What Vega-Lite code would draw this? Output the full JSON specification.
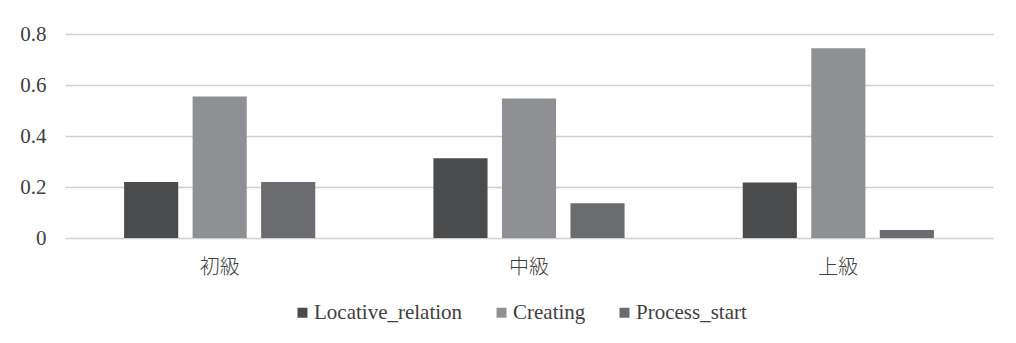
{
  "$schema": "https://vega.github.io/schema/vega-lite/v6.json",
  "autosize": {"type": "none"},
  "padding": {"left": 65, "top": 34, "right": 23, "bottom": 105},
  "width": 928,
  "height": 204,
  "background": "#ffffff",
  "data": {
    "values": [
      {"level": "初級", "category": "Locative_relation", "value": 0.22},
      {"level": "初級", "category": "Creating", "value": 0.555},
      {"level": "初級", "category": "Process_start", "value": 0.22},
      {"level": "中級", "category": "Locative_relation", "value": 0.313},
      {"level": "中級", "category": "Creating", "value": 0.547},
      {"level": "中級", "category": "Process_start", "value": 0.136},
      {"level": "上級", "category": "Locative_relation", "value": 0.218},
      {"level": "上級", "category": "Creating", "value": 0.744},
      {"level": "上級", "category": "Process_start", "value": 0.031}
    ]
  },
  "mark": {"type": "bar"},
  "encoding": {
    "x": {
      "field": "level",
      "type": "nominal",
      "sort": ["初級", "中級", "上級"],
      "scale": {"paddingInner": 0.382, "paddingOuter": 0.191},
      "axis": {
        "title": null,
        "domain": false,
        "ticks": false,
        "tickSize": 0,
        "labelAngle": 0,
        "labelPadding": 19,
        "labelFont": "Noto Sans CJK JP",
        "labelFontWeight": 300,
        "labelFontSize": 20,
        "labelColor": "#404040"
      }
    },
    "xOffset": {
      "field": "category",
      "type": "nominal",
      "sort": ["Locative_relation", "Creating", "Process_start"],
      "scale": {"paddingInner": 0.21, "paddingOuter": 0}
    },
    "y": {
      "field": "value",
      "type": "quantitative",
      "scale": {"domain": [0, 0.8], "nice": false},
      "axis": {
        "title": null,
        "values": [0, 0.2, 0.4, 0.6, 0.8],
        "format": "~g",
        "domain": false,
        "ticks": false,
        "tickSize": 0,
        "labelPadding": 19,
        "labelFont": "Liberation Serif, Times New Roman, serif",
        "labelFontSize": 21,
        "labelColor": "#404040",
        "grid": true,
        "gridColor": "#cfcfcf",
        "gridWidth": 1.5
      }
    },
    "color": {
      "field": "category",
      "type": "nominal",
      "sort": ["Locative_relation", "Creating", "Process_start"],
      "scale": {
        "domain": ["Locative_relation", "Creating", "Process_start"],
        "range": ["#4a4b4d", "#8f9093", "#6b6c6f"]
      },
      "legend": {
        "title": null,
        "orient": "none",
        "legendX": 227,
        "legendY": 268,
        "direction": "horizontal",
        "symbolType": "square",
        "symbolSize": 100,
        "symbolStrokeWidth": 0,
        "labelFont": "Liberation Serif, Times New Roman, serif",
        "labelFontSize": 21,
        "labelLimit": 0,
        "labelColor": "#404040",
        "labelOffset": 1,
        "columnPadding": 28
      }
    }
  },
  "config": {
    "view": {"stroke": null}
  }
}
